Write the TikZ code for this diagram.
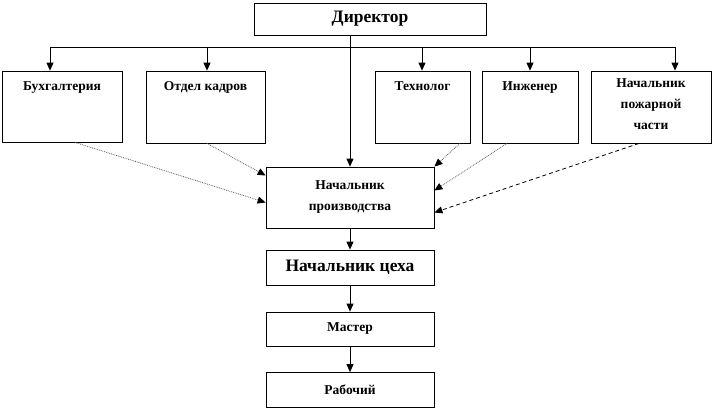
\documentclass[tikz,border=0pt]{standalone}
\usepackage{fontspec}
\setmainfont{Liberation Serif}
\usetikzlibrary{arrows.meta}

\tikzset{
  box/.style={draw,rectangle,inner sep=0pt},
  lbl/.style={font=\bfseries\fontsize{13.5}{21}\selectfont,align=center},
  big/.style={font=\bfseries\fontsize{17.5}{20}\selectfont},
  arr/.style={-{Triangle[length=8pt,width=7pt,color=black]}},
  dot/.style={arr,densely dotted,gray!70!black},
  dsh/.style={arr,dash pattern=on 4pt off 3pt}
}

\begin{document}
\begin{tikzpicture}
  [x=1pt,y=-1pt,line width=0.8pt]
  \useasboundingbox (0,0) rectangle (714,410);
  % top
  \node[box,big,minimum width=232pt,minimum height=32pt] (dir) at (370,19) {Директор};
  % departments
  \node[box,minimum width=120pt,minimum height=71pt,label={[lbl,anchor=north,yshift=-7pt]north:Бухгалтерия}] (buh) at (62,106.5) {};
  \node[box,minimum width=119pt,minimum height=72pt,label={[lbl,anchor=north,yshift=-7pt]north:Отдел кадров}] (kadr) at (205.5,107) {};
  \node[box,minimum width=95pt,minimum height=72pt,label={[lbl,anchor=north,yshift=-7pt]north:Технолог}] (tech) at (422.5,107) {};
  \node[box,minimum width=96pt,minimum height=72pt,label={[lbl,anchor=north,yshift=-7pt]north:Инженер}] (ing) at (530,107) {};
  \node[box,minimum width=120pt,minimum height=72pt,label={[lbl,anchor=north,yshift=-4pt]north:Начальник\\пожарной\\части}] (fire) at (651,107) {};
  % chain
  \node[box,lbl,minimum width=168pt,minimum height=61pt] (np) at (350,197.5) {Начальник\\производства};
  \node[box,big,minimum width=168pt,minimum height=35pt] (nc) at (350,267.5) {Начальник цеха};
  \node[box,lbl,minimum width=168pt,minimum height=34pt] (mast) at (350,329) {Мастер};
  \node[box,lbl,minimum width=168pt,minimum height=35pt] (rab) at (350,390) {Рабочий};
  % bus
  \coordinate (t1) at (50,47);
  \coordinate (t2) at (207,47);
  \coordinate (t3) at (422,47);
  \coordinate (t4) at (530,47);
  \coordinate (t5) at (675,47);
  \draw (t1) -- (t5);
  \foreach \from/\to in {t1/buh,t2/kadr,t3/tech,t4/ing,t5/fire}
    \draw[arr] (\from) -- (\from |- \to.north);
  \draw[arr] (np.north |- dir.south) -- (np);
  \foreach \from/\to in {np/nc,nc/mast,mast/rab}
    \draw[arr] (\from) -- (\to);
  % links
  \draw[dot] ([xshift=13pt]buh.south) -- ([yshift=-5pt]np.west);
  \draw[dot] ([xshift=1.5pt]kadr.south) -- ([yshift=22pt]np.west);
  \draw[dot] ([xshift=37.5pt]tech.south) -- (np.north east);
  \draw[dot] ([xshift=-23pt]ing.south) -- ([yshift=7pt]np.east);
  \draw[dsh] ([xshift=-12pt]fire.south) -- ([yshift=-15pt]np.east);
\end{tikzpicture}
\end{document}
